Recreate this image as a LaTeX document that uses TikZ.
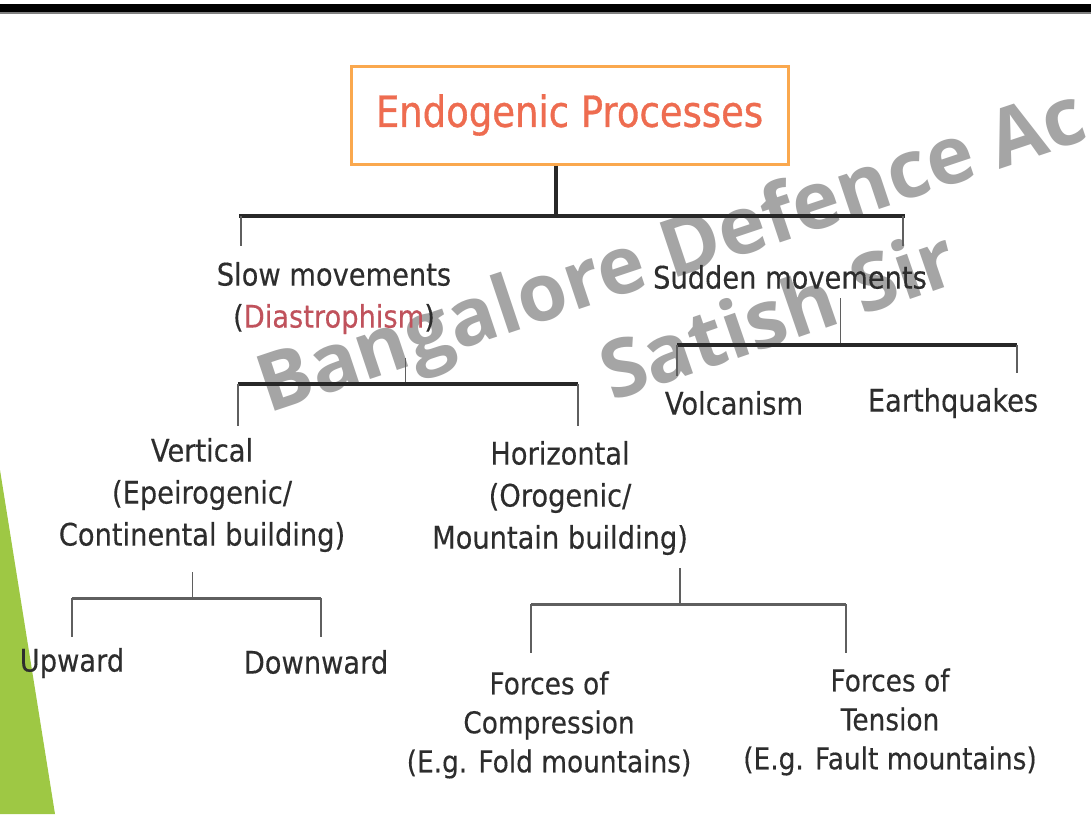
\documentclass[tikz,border=0pt]{standalone}
\usepackage{fontspec}
\setmainfont{DejaVu Sans}[FakeStretch=0.88, FakeBold=0.3]
\newfontfamily\titlefont{DejaVu Sans}[FakeStretch=0.86, FakeBold=0.8]
\newfontfamily\wmfont{Open Sans}
\definecolor{txt}{RGB}{45,45,45}
\definecolor{boxc}{RGB}{250,168,78}
\definecolor{titlec}{RGB}{238,108,80}
\definecolor{diac}{RGB}{192,82,92}
\definecolor{greenc}{RGB}{158,200,68}
\definecolor{barc}{RGB}{40,40,40}
\definecolor{subc}{RGB}{95,95,95}
\definecolor{wmc}{RGB}{165,165,165}
\begin{document}
\begin{tikzpicture}[x=1pt,y=-1pt,
  lbl/.style={font=\fontsize{31}{42}\selectfont, text=txt, align=center, inner sep=0pt},
  lbls/.style={font=\fontsize{30}{39}\selectfont, text=txt, align=center, inner sep=0pt},
  mainbar/.style={line width=4pt, draw=barc},
  subbar/.style={line width=3pt, draw=subc},
  thin/.style={line width=1.5pt, draw=subc},
  wm/.style={font=\wmfont\bfseries\fontsize{80}{80}\selectfont, text=wmc, inner sep=0pt}]
\useasboundingbox (0,0) rectangle (1091,814);
\clip (0,0) rectangle (1091,814);
\fill[white] (0,0) rectangle (1091,814);
% top bar
\fill[black] (0,4) rectangle (1091,12);
\fill[gray] (0,12) rectangle (1091,13.5);
% green triangle
\fill[greenc] (0,470) -- (55,814) -- (0,814) -- cycle;

% watermark (behind)
\node[wm, rotate=18.5, anchor=base west] (wm1) at (268,414) {Bangalore Defence Ac};
\node[wm, rotate=19, anchor=base west] (wm2) at (612,402) {Satish Sir};

% root
\node[draw=boxc, line width=3pt, fill=white, minimum width=437pt, minimum height=98pt,
      text=titlec, font=\titlefont\fontsize{43}{43}\selectfont, inner sep=0pt] (root) at (569.5,115) {Endogenic Processes};

% level 1
\node[lbl] (slow) at (334,298) {Slow movements\\(\textcolor{diac}{Diastrophism})};
\node[lbl] (sudden) at (790,277) {Sudden movements};

\coordinate (j1) at (556,216);
\coordinate (j1l) at (241,216);
\coordinate (j1r) at (903,216);
\draw[mainbar] (root.south -| j1) -- (j1);
\draw[mainbar, line cap=rect] (j1l) -- (j1r);
\draw[thin] (j1l) -- (241,246);
\draw[thin] (j1r) -- (903,246);

% slow branch
\node[lbl] (vert) at (202,495) {Vertical\\(Epeirogenic/\\Continental building)};
\node[lbl] (horiz) at (560,498) {Horizontal\\(Orogenic/\\Mountain building)};
\coordinate (j2) at (405,384);
\coordinate (j2l) at (238,384);
\coordinate (j2r) at (578,384);
\draw[thin, line width=1pt] (405,358) -- (j2);
\draw[mainbar] (j2l) -- (j2r);
\draw[thin] (j2l) -- (238,426);
\draw[thin] (j2r) -- (578,426);

% sudden branch
\node[lbl] (volc) at (734,403) {Volcanism};
\node[lbl] (earth) at (953,403) {Earthquakes};
\coordinate (j3) at (840,345);
\coordinate (j3l) at (677,345);
\coordinate (j3r) at (1017,345);
\draw[thin, line width=1pt] (840,298) -- (j3);
\draw[mainbar] (j3l) -- (j3r);
\draw[thin] (j3l) -- (677,376);
\draw[thin] (j3r) -- (1017,373);

% vertical branch
\node[lbl] (up) at (72,663) {Upward};
\node[lbl] (down) at (316,662) {Downward};
\coordinate (j4) at (192,598);
\coordinate (j4l) at (72,598);
\coordinate (j4r) at (321,598);
\draw[thin, line width=1pt] (192,572) -- (j4);
\draw[subbar] (j4l) -- (j4r);
\draw[thin] (j4l) -- (72,637);
\draw[thin] (j4r) -- (321,637);

% horizontal branch
\node[lbls] (comp) at (549,725) {Forces of\\Compression\\(E.g. Fold mountains)};
\node[lbls] (tens) at (890,722) {Forces of\\Tension\\(E.g. Fault mountains)};
\coordinate (j5) at (680,604);
\coordinate (j5l) at (531,604);
\coordinate (j5r) at (846,604);
\draw[thin] (680,568) -- (j5);
\draw[subbar] (j5l) -- (j5r);
\draw[thin] (j5l) -- (531,653);
\draw[thin] (j5r) -- (846,653);
\end{tikzpicture}
\end{document}
